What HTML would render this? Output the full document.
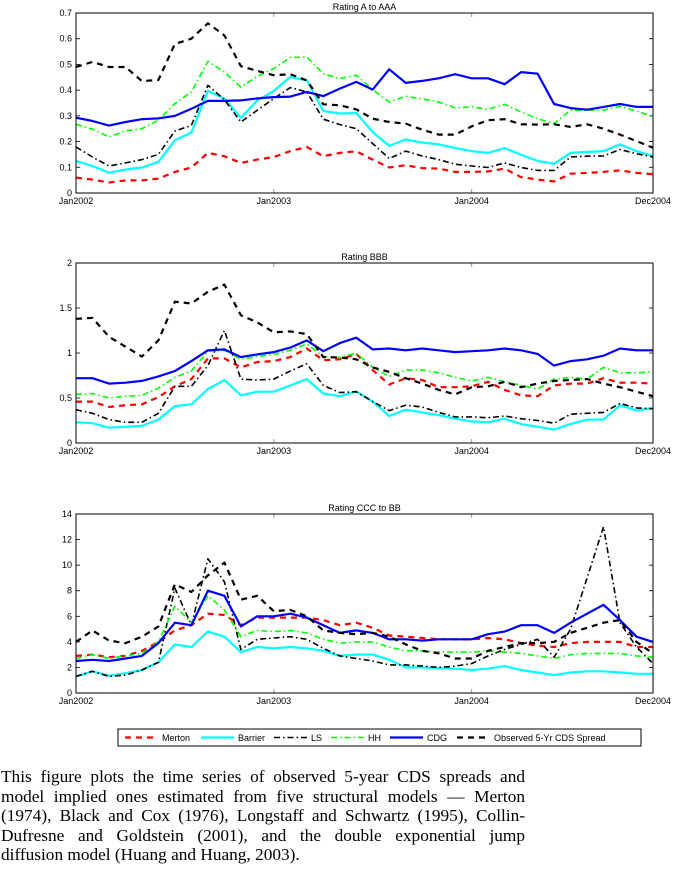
<!DOCTYPE html>
<html><head><meta charset="utf-8">
<style>
body{margin:0;background:#fff;width:674px;height:873px;overflow:hidden;position:relative;font-family:"Liberation Sans",sans-serif}
svg{position:absolute;left:0;top:0}
.cap{position:absolute;left:1px;width:524px;font-family:"Liberation Serif",serif;font-size:17.3px;line-height:19.6px;text-align:justify;text-align-last:justify;white-space:nowrap}
</style></head><body>
<svg id="chart" width="674" height="760"></svg>
<div>
<div class="cap" style="top:767px">This figure plots the time series of observed 5-year CDS spreads and</div>
<div class="cap" style="top:786.6px">model implied ones estimated from five structural models — Merton</div>
<div class="cap" style="top:806.2px">(1974), Black and Cox (1976), Longstaff and Schwartz (1995), Collin-</div>
<div class="cap" style="top:825.8px">Dufresne and Goldstein (2001), and the double exponential jump</div>
<div class="cap" style="top:845.4px;text-align-last:left">diffusion model (Huang and Huang, 2003).</div>
</div>
<script>
const xTickLabels=["Jan2002","Jan2003","Jan2004","Dec2004"];
const xTickMonths=[0,12,24,35];
const seriesNames=["Merton","Barrier","LS","HH","CDG","Observed 5-Yr CDS Spread"];
const p1Title="Rating A to AAA", p1YTicks=[0,0.1,0.2,0.3,0.4,0.5,0.6,0.7];
const p1Merton=[0.06,0.052,0.041,0.049,0.049,0.056,0.082,0.099,0.156,0.143,0.117,0.13,0.14,0.163,0.179,0.143,0.156,0.162,0.13,0.099,0.108,0.097,0.095,0.082,0.082,0.084,0.095,0.062,0.052,0.045,0.075,0.078,0.082,0.088,0.078,0.073];
const p1Barrier=[0.125,0.105,0.079,0.091,0.099,0.121,0.205,0.235,0.397,0.367,0.293,0.36,0.397,0.451,0.438,0.319,0.309,0.311,0.237,0.183,0.208,0.196,0.189,0.175,0.163,0.156,0.175,0.149,0.125,0.114,0.156,0.16,0.163,0.189,0.163,0.144];
const p1LS=[0.179,0.14,0.105,0.117,0.13,0.15,0.241,0.263,0.419,0.363,0.276,0.322,0.367,0.41,0.393,0.287,0.266,0.25,0.192,0.134,0.163,0.144,0.13,0.112,0.105,0.099,0.117,0.099,0.088,0.088,0.14,0.143,0.144,0.169,0.153,0.14];
const p1HH=[0.267,0.248,0.218,0.241,0.25,0.283,0.348,0.393,0.512,0.47,0.412,0.454,0.484,0.527,0.529,0.464,0.445,0.458,0.402,0.354,0.376,0.366,0.354,0.331,0.335,0.326,0.345,0.315,0.289,0.27,0.322,0.322,0.322,0.337,0.318,0.298];
const p1CDG=[0.293,0.28,0.262,0.276,0.287,0.29,0.3,0.328,0.358,0.358,0.36,0.368,0.373,0.375,0.393,0.377,0.406,0.432,0.402,0.481,0.428,0.436,0.446,0.462,0.446,0.446,0.423,0.47,0.464,0.346,0.33,0.324,0.335,0.346,0.335,0.335];
const p1Obs=[0.49,0.51,0.49,0.49,0.435,0.44,0.58,0.6,0.66,0.613,0.493,0.475,0.458,0.462,0.438,0.345,0.341,0.325,0.289,0.276,0.27,0.246,0.227,0.227,0.259,0.283,0.287,0.267,0.266,0.267,0.257,0.267,0.25,0.227,0.202,0.176];
const p2Title="Rating BBB", p2YTicks=[0,0.5,1,1.5,2];
const p2Merton=[0.46,0.46,0.4,0.42,0.43,0.51,0.63,0.71,0.94,0.94,0.84,0.9,0.91,0.955,1.05,0.92,0.93,0.99,0.81,0.65,0.72,0.7,0.62,0.62,0.63,0.68,0.59,0.53,0.52,0.64,0.66,0.66,0.72,0.67,0.67,0.66];
const p2Barrier=[0.23,0.22,0.17,0.18,0.19,0.26,0.41,0.43,0.6,0.7,0.53,0.57,0.57,0.64,0.71,0.55,0.52,0.57,0.46,0.3,0.37,0.34,0.31,0.27,0.24,0.23,0.27,0.21,0.18,0.15,0.21,0.26,0.26,0.42,0.36,0.39];
const p2LS=[0.37,0.33,0.26,0.23,0.23,0.33,0.63,0.63,0.86,1.25,0.71,0.7,0.71,0.8,0.88,0.64,0.56,0.57,0.46,0.36,0.42,0.4,0.34,0.29,0.29,0.28,0.3,0.27,0.25,0.22,0.32,0.33,0.34,0.44,0.39,0.38];
const p2HH=[0.54,0.55,0.5,0.52,0.53,0.61,0.73,0.8,1.02,1.03,0.93,0.96,0.985,1.03,1.1,0.96,0.95,1.0,0.84,0.74,0.81,0.81,0.78,0.73,0.69,0.73,0.68,0.64,0.6,0.71,0.73,0.71,0.84,0.78,0.78,0.79];
const p2CDG=[0.72,0.72,0.66,0.67,0.69,0.74,0.8,0.91,1.03,1.04,0.955,0.985,1.01,1.06,1.14,1.02,1.11,1.17,1.04,1.05,1.03,1.05,1.03,1.01,1.02,1.03,1.05,1.03,0.99,0.86,0.91,0.93,0.97,1.05,1.03,1.03];
const p2Obs=[1.38,1.39,1.18,1.07,0.96,1.14,1.57,1.55,1.68,1.76,1.42,1.34,1.23,1.24,1.21,0.955,0.95,0.93,0.84,0.79,0.72,0.66,0.59,0.54,0.62,0.63,0.68,0.62,0.66,0.69,0.7,0.71,0.66,0.62,0.57,0.52];
const p3Title="Rating CCC to BB", p3YTicks=[0,2,4,6,8,10,12,14];
const p3Merton=[2.9,3.0,2.8,2.9,3.3,4.0,4.9,5.3,6.2,6.1,5.3,5.9,5.9,5.9,5.9,5.7,5.3,5.5,5.1,4.5,4.4,4.3,4.2,4.2,4.2,4.3,4.2,3.9,3.7,3.6,3.9,4.0,4.0,4.0,3.6,3.6];
const p3Barrier=[1.3,1.7,1.35,1.55,1.8,2.4,3.8,3.6,4.8,4.4,3.2,3.6,3.5,3.6,3.5,3.3,2.9,3.0,3.0,2.6,2.0,2.0,1.95,1.9,1.8,1.9,2.1,1.8,1.6,1.4,1.6,1.7,1.7,1.6,1.5,1.5];
const p3LS=[1.3,1.7,1.3,1.4,1.8,2.4,8.2,5.3,10.5,8.7,3.4,4.2,4.3,4.4,4.2,3.5,2.9,2.7,2.5,2.2,2.2,2.1,2.0,2.1,2.3,2.9,3.4,3.8,4.2,2.8,5.0,9.0,13.0,5.5,3.6,2.3];
const p3HH=[2.7,3.0,2.7,2.9,3.1,4.0,6.8,5.5,7.6,6.5,4.4,4.9,4.8,4.9,4.7,4.2,3.9,4.0,4.0,3.6,3.3,3.3,3.2,3.2,3.2,3.3,3.2,3.1,2.9,2.7,3.0,3.1,3.1,3.1,2.9,2.8];
const p3CDG=[2.5,2.6,2.5,2.7,2.9,3.9,5.5,5.3,8.0,7.6,5.2,6.0,6.0,6.2,5.9,5.3,4.7,4.9,4.7,4.2,4.2,4.1,4.2,4.2,4.2,4.6,4.8,5.3,5.3,4.7,5.5,6.2,6.9,5.7,4.4,4.0];
const p3Obs=[4.0,4.9,4.1,3.9,4.4,5.2,8.5,7.9,9.2,10.2,7.3,7.6,6.4,6.5,6.0,4.9,4.7,4.6,4.7,4.4,3.8,3.3,3.1,2.7,2.7,3.3,3.6,3.9,3.9,4.0,4.7,5.1,5.5,5.7,4.0,3.1];

const NS="http://www.w3.org/2000/svg";
const svg=document.getElementById('chart');
function mk(tag,attrs,parent){const e=document.createElementNS(NS,tag);for(const k in attrs)e.setAttribute(k,attrs[k]);(parent||svg).appendChild(e);return e;}
const styles=[
 {c:"#ff0000",w:2.2,d:"6,5"},
 {c:"#00ffff",w:2.2,d:""},
 {c:"#000000",w:1.6,d:"6,3,1.5,3"},
 {c:"#00ff00",w:1.6,d:"6,3,1.5,3"},
 {c:"#0000ff",w:2.2,d:""},
 {c:"#000000",w:2.2,d:"6,5"}];
const L=76,R=653;
function xs(m){return L+(R-L)*m/35;}
function panel(id,top,bot,title,yt,series){
 const g=mk('g',{});
 
 
 const ymax=yt[yt.length-1];
 const ys=v=>bot-(bot-top)*v/ymax;
 const t=mk('text',{x:(L+R)/2,y:top-3,'font-size':9,'text-anchor':'middle',fill:'#000'},g);
 t.textContent=title;
 
 
 yt.forEach(v=>{
  const y=ys(v);
  mk('line',{x1:L,x2:L+4,y1:y,y2:y,stroke:'#000','stroke-width':0.8},g);
  mk('line',{x1:R-4,x2:R,y1:y,y2:y,stroke:'#000','stroke-width':0.8},g);
  const tx=mk('text',{x:L-4,y:y+3,'font-size':9,'text-anchor':'end'},g);
  tx.textContent=String(v);
  
  
 });
 xTickMonths.forEach((m,i)=>{
  const x=xs(m);
  mk('line',{x1:x,x2:x,y1:bot,y2:bot-4,stroke:'#999','stroke-width':1},g);
  mk('line',{x1:x,x2:x,y1:top,y2:top+4,stroke:'#999','stroke-width':1},g);
  const tx=mk('text',{x:x,y:bot+11,'font-size':9,'text-anchor':'middle'},g);
  tx.textContent=xTickLabels[i];
  
  
 });
 series.forEach((arr,si)=>{
  const s=styles[si];
  const pts=arr.map((v,i)=>xs(i).toFixed(1)+','+ys(v).toFixed(1)).join(' ');
  const pl=mk('polyline',{points:pts,fill:'none',stroke:s.c,'stroke-width':s.w,'stroke-dasharray':s.d,'stroke-linejoin':'round'},g);
  
  
 });
 mk('rect',{x:L,y:top,width:R-L,height:bot-top,fill:'none',stroke:'#000','stroke-width':1},g);
}
panel('panel-a-aaa',13,193,p1Title,p1YTicks,[p1Merton,p1Barrier,p1LS,p1HH,p1CDG,p1Obs]);
panel('panel-bbb',263,443,p2Title,p2YTicks,[p2Merton,p2Barrier,p2LS,p2HH,p2CDG,p2Obs]);
panel('panel-ccc-bb',514,693,p3Title,p3YTicks,[p3Merton,p3Barrier,p3LS,p3HH,p3CDG,p3Obs]);
const lg=mk('g',{});


mk('rect',{x:118,y:729,width:523,height:17,fill:'#fff',stroke:'#000','stroke-width':1},lg);
const lx=[125,201,274,331,390,457];
seriesNames.forEach((n,i)=>{
 const s=styles[i];
 mk('line',{x1:lx[i],x2:lx[i]+33,y1:737.5,y2:737.5,stroke:s.c,'stroke-width':s.w,'stroke-dasharray':s.d},lg);
 const t=mk('text',{x:lx[i]+37,y:741,'font-size':9},lg);
 t.textContent=n;
 
 
});
</script>
</body></html>
